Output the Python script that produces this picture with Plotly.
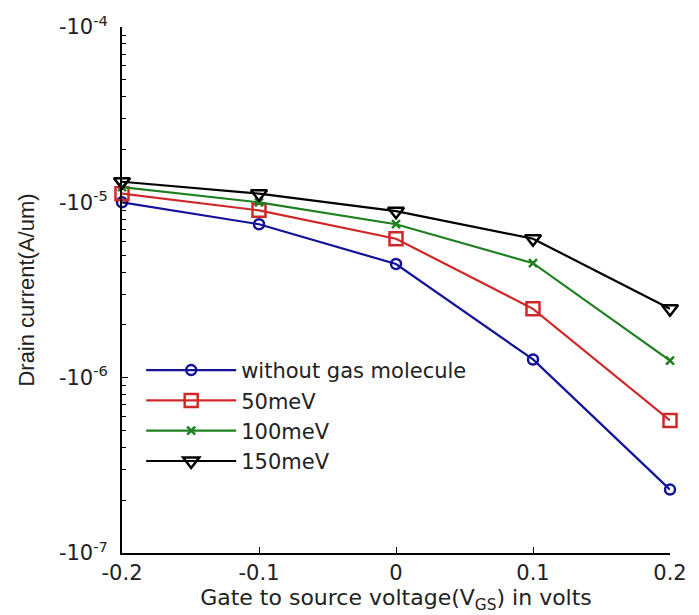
import plotly.graph_objects as go

vgs = [-0.2, -0.1, 0.0, 0.1, 0.2]
i_none = [1.0e-5, 7.5e-6, 4.45e-6, 1.27e-6, 2.3e-7]
i_50 = [1.12e-5, 9.0e-6, 6.2e-6, 2.47e-6, 5.7e-7]
i_100 = [1.22e-5, 1.0e-5, 7.5e-6, 4.5e-6, 1.25e-6]
i_150 = [1.31e-5, 1.12e-5, 8.9e-6, 6.2e-6, 2.47e-6]
names = ["without gas molecule", "50meV", "100meV", "150meV"]
colors = ["#12129a", "#d02828", "#1f801f", "#000000"]
symbols = ["circle-open", "square-open", "x-thin-open", "triangle-down-open"]
sizes = [10, 13, 8, 14]
ytickvals = [1e-4, 1e-5, 1e-6, 1e-7]
yticktext = ["-10<sup>-4</sup>", "-10<sup>-5</sup>", "-10<sup>-6</sup>", "-10<sup>-7</sup>"]
xtickvals = [-0.2, -0.1, 0, 0.1, 0.2]
xticktext = ["-0.2", "-0.1", "0", "0.1", "0.2"]

font = "DejaVu Sans, Verdana, sans-serif"
fig = go.Figure()
for ys, n, c, s, sz in zip([i_none, i_50, i_100, i_150], names, colors, symbols, sizes):
    fig.add_trace(go.Scatter(
        x=vgs, y=ys, name=n, mode="lines+markers", cliponaxis=False,
        line=dict(color=c, width=2.2),
        marker=dict(symbol=s, size=sz, color=c, line=dict(color=c, width=2.5)),
    ))

fig.update_layout(
    width=699, height=615,
    margin=dict(l=122, r=17, t=25, b=62),
    paper_bgcolor="white", plot_bgcolor="white",
    font=dict(family=font, size=18, color="#222"),
    showlegend=True,
    legend=dict(x=0.035, y=0.386, xanchor="left", yanchor="top",
                bgcolor="rgba(0,0,0,0)", font=dict(size=21, family=font, color="#222"),
                itemwidth=90, tracegroupgap=0),
)
fig.update_xaxes(
    range=[-0.2, 0.2], tickvals=xtickvals, ticktext=xticktext,
    showgrid=False, zeroline=False, showline=True, linecolor="black", linewidth=1.8,
    ticks="inside", ticklen=6, tickcolor="black", tickfont=dict(size=21),
    title=dict(text="Gate to source voltage(V<sub>GS</sub>) in volts", font=dict(size=22), standoff=3),
)
fig.update_yaxes(
    type="log", range=[-7, -4], tickvals=ytickvals, ticktext=yticktext,
    showgrid=False, zeroline=False, showline=True, linecolor="black", linewidth=1.8,
    ticks="inside", ticklen=6, tickcolor="black", tickfont=dict(size=21),
    ticklabelstandoff=8,
    minor=dict(ticks="inside", ticklen=4, tickcolor="black", tickvals=[m * 10.0 ** e for e in (-7, -6, -5) for m in range(2, 10)]),
    title=dict(text="Drain current(A/um)", font=dict(size=22, family="Liberation Sans, Arial, sans-serif"), standoff=18),
)
fig.write_html("out.html")
